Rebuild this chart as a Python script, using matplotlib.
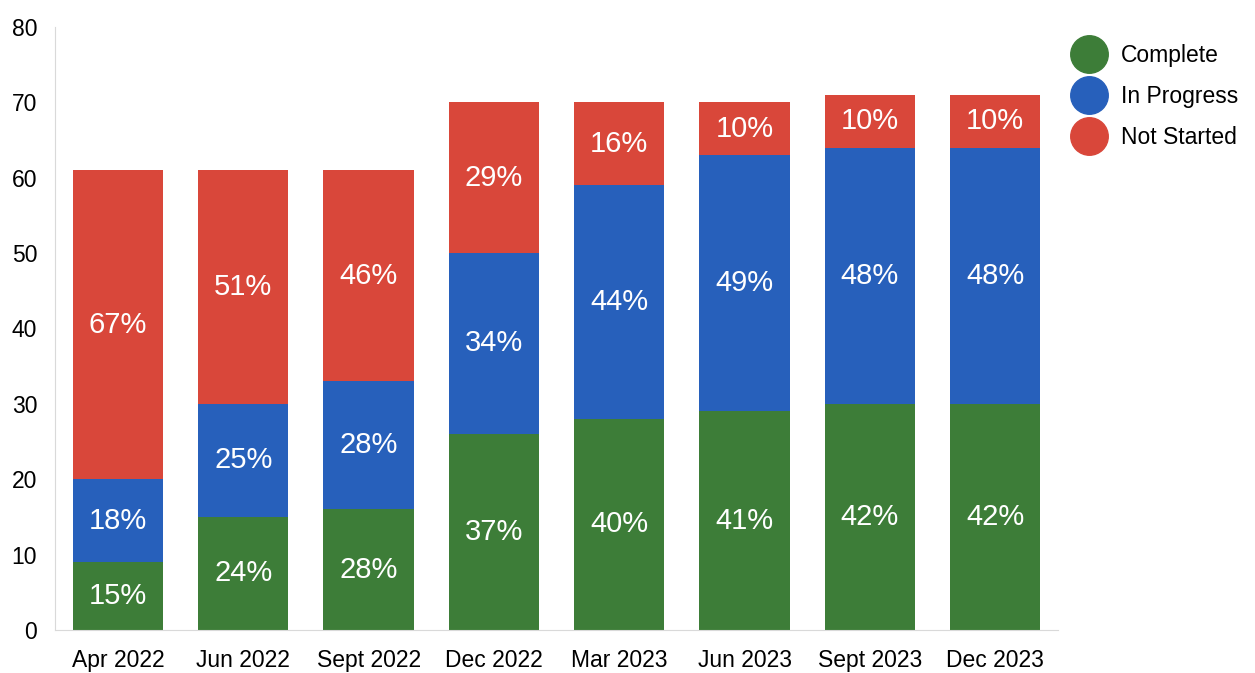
import matplotlib.pyplot as plt
from matplotlib.lines import Line2D
import numpy as np

plt.rcParams['font.family'] = ['Liberation Sans', 'DejaVu Sans']

categories = ["Apr 2022", "Jun 2022", "Sept 2022", "Dec 2022",
              "Mar 2023", "Jun 2023", "Sept 2023", "Dec 2023"]
complete = [9, 15, 16, 26, 28, 29, 30, 30]
in_progress = [11, 15, 17, 24, 31, 34, 34, 34]
not_started = [41, 31, 28, 20, 11, 7, 7, 7]

complete_pct = ["15%", "24%", "28%", "37%", "40%", "41%", "42%", "42%"]
in_progress_pct = ["18%", "25%", "28%", "34%", "44%", "49%", "48%", "48%"]
not_started_pct = ["67%", "51%", "46%", "29%", "16%", "10%", "10%", "10%"]

green = "#3d7d38"
blue = "#2760bb"
red = "#d9473a"

fig = plt.figure(figsize=(12.55, 6.73), dpi=100)
ax = fig.add_axes([0.044, 0.064, 0.799, 0.896])

x = np.arange(len(categories))
w = 0.72
c = np.array(complete)
p = np.array(in_progress)
n = np.array(not_started)

b1 = ax.bar(x, c, w, color=green)
b2 = ax.bar(x, p, w, bottom=c, color=blue)
b3 = ax.bar(x, n, w, bottom=c + p, color=red)

ax.bar_label(b1, labels=complete_pct, label_type="center", color="white", fontsize=21)
ax.bar_label(b2, labels=in_progress_pct, label_type="center", color="white", fontsize=21)
ax.bar_label(b3, labels=not_started_pct, label_type="center", color="white", fontsize=21)

ax.set_xlim(-0.5, len(categories) - 0.5)
ax.set_ylim(0, 80)
ax.set_yticks(range(0, 81, 10))
ax.set_xticks(x)
ax.set_xticklabels(categories)
ax.tick_params(axis="both", length=0, labelsize=16.5)
ax.tick_params(axis="x", pad=14)
ax.tick_params(axis="y", pad=13)

for s in ["top", "right"]:
    ax.spines[s].set_visible(False)
ax.spines["left"].set_color("#d9d9d9")
ax.spines["bottom"].set_color("#d9d9d9")

handles = [Line2D([], [], marker="o", linestyle="", markersize=27, color=col)
           for col in [green, blue, red]]
fig.legend(handles, ["Complete", "In Progress", "Not Started"],
           loc="upper left", bbox_to_anchor=(0.842, 0.948), frameon=False,
           fontsize=16.5, labelspacing=0.78, handletextpad=0.42, borderaxespad=0)

plt.savefig("out.png", dpi=100)
